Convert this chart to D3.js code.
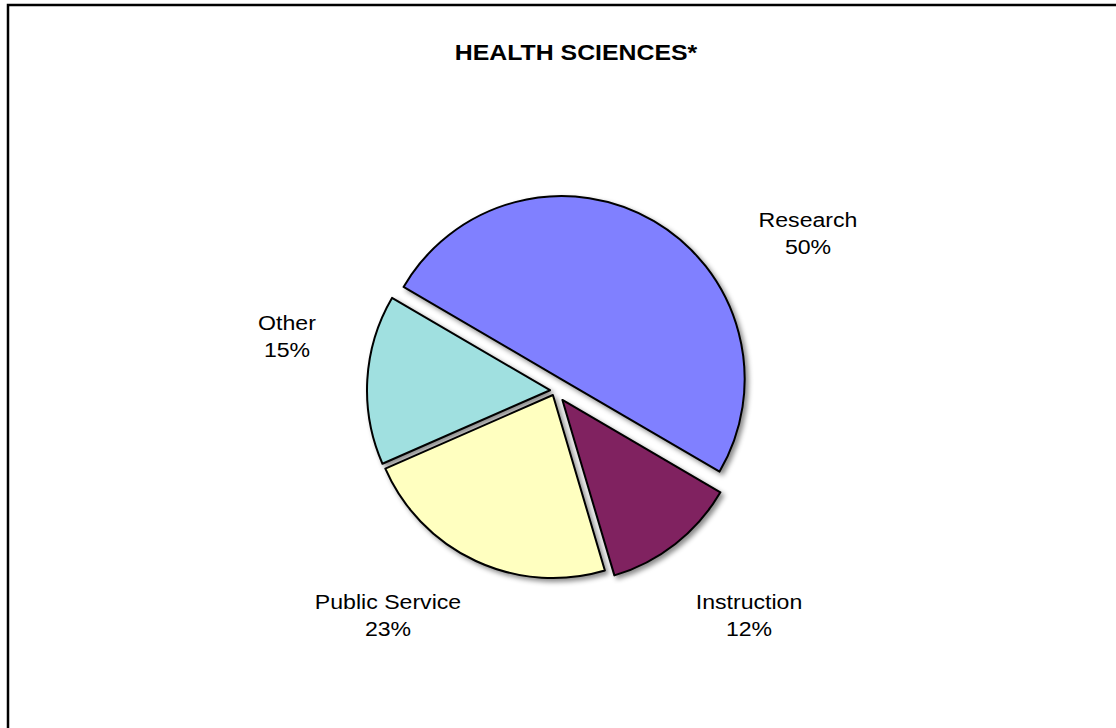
<!DOCTYPE html>
<html>
<head>
<meta charset="utf-8">
<script src="https://cdn.jsdelivr.net/npm/d3@7"></script>
<style>
  html, body { margin: 0; padding: 0; background: #fff; }
  svg { display: block; }
</style>
</head>
<body>
<svg id="chart" width="1116" height="728"></svg>
<script>
// ---- data ----
const categories = ["Research", "Instruction", "Public Service", "Other"];
const values = [50, 12, 23, 15];
const colors = ["#8080FF", "#802060", "#FFFFC0", "#A0E0E0"];
const title = "HEALTH SCIENCES*";

// ---- layout ----
const W = 1116, H = 728;
const cx = 555, cy = 390.5, R = 183;
const startAngle = (300.3 - 360) * Math.PI / 180;
const explode = [13, 12, 5, 5];
const labelLayout = [
  { x: 808, y: 227 },
  { x: 749, y: 609 },
  { x: 388, y: 609 },
  { x: 287, y: 330 }
];
const lineGap = 27.5;

const svg = d3.select("#chart");

const defs = svg.append("defs");
const f = defs.append("filter").attr("id", "shadow")
  .attr("x", "-20%").attr("y", "-20%").attr("width", "140%").attr("height", "140%");
f.append("feDropShadow").attr("dx", 3).attr("dy", 3).attr("stdDeviation", 2.5)
  .attr("flood-color", "#000").attr("flood-opacity", 0.45);

// frame
svg.append("rect").attr("x", 8).attr("y", 5).attr("width", W + 20).attr("height", H + 20)
  .attr("fill", "none").attr("stroke", "#000").attr("stroke-width", 2.5);

// title
svg.append("text")
  .attr("transform", `translate(576,60) scale(1.13,1)`)
  .attr("text-anchor", "middle")
  .attr("font-family", "Liberation Sans, Arial, sans-serif")
  .attr("font-weight", "bold")
  .attr("font-size", 22)
  .attr("fill", "#000")
  .text(title);

const data = categories.map((c, i) => ({ name: c, value: values[i], color: colors[i], i }));

const pie = d3.pie().value(d => d.value).sort(null)
  .startAngle(startAngle).endAngle(startAngle + 2 * Math.PI);
const arc = d3.arc().innerRadius(0).outerRadius(R);
const arcs = pie(data);

const g = svg.append("g").attr("transform", `translate(${cx},${cy})`)
  .attr("filter", "url(#shadow)");

g.selectAll("path").data(arcs).join("path")
  .attr("transform", d => {
    const a = (d.startAngle + d.endAngle) / 2;
    const e = explode[d.data.i];
    return `translate(${e * Math.sin(a)},${-e * Math.cos(a)})`;
  })
  .attr("d", arc)
  .attr("fill", d => d.data.color)
  .attr("stroke", "#000")
  .attr("stroke-width", 2)
  .attr("stroke-linejoin", "round");

// labels
const lg = svg.append("g")
  .attr("font-family", "Liberation Sans, Arial, sans-serif")
  .attr("font-size", 21)
  .attr("fill", "#000");

arcs.forEach(d => {
  const p = labelLayout[d.data.i];
  const t = lg.append("text")
    .attr("transform", `translate(${p.x},${p.y}) scale(1.1,1)`)
    .attr("text-anchor", "middle");
  t.append("tspan").attr("x", 0).attr("y", 0).text(d.data.name);
  t.append("tspan").attr("x", 0).attr("y", lineGap).text(d3.format(".0%")(d.data.value / 100));
});
</script>
</body>
</html>
